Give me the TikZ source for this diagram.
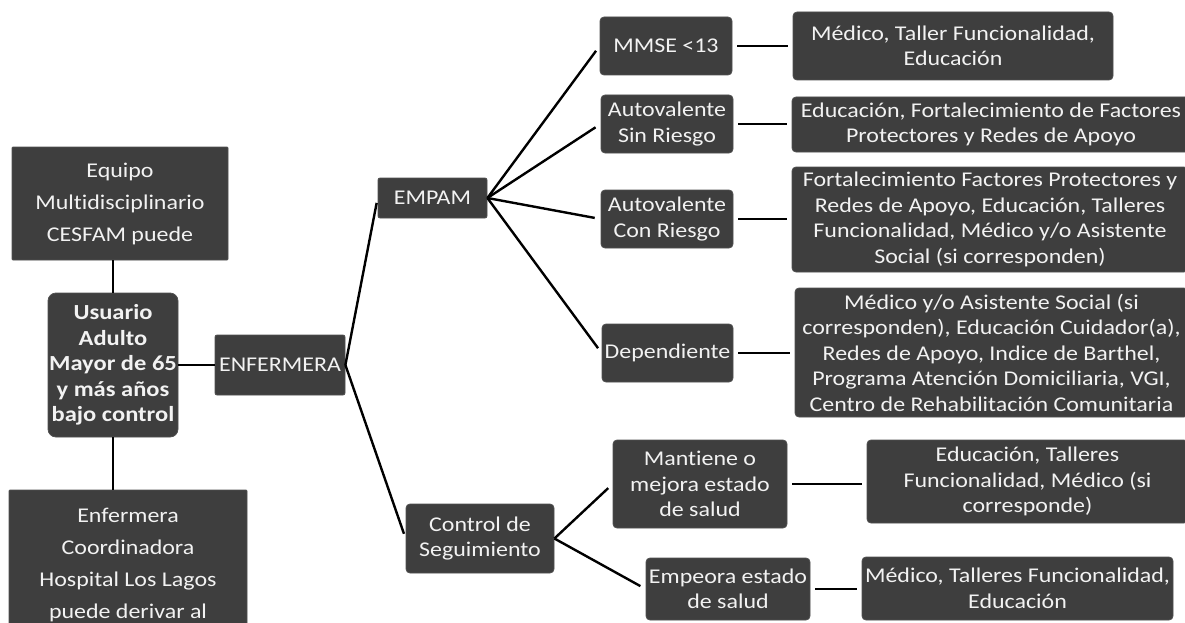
\documentclass[tikz,border=0pt]{standalone}
\usepackage{fontspec}
\setmainfont{Carlito}[FakeStretch=1.14, Ligatures={NoCommon}]
\begin{document}
\begin{tikzpicture}[x=1pt,y=-1pt,
  box/.style={draw=boxedge, line width=0.8pt, fill=boxfill, text=boxtext,
    align=center, inner sep=0pt, rounded corners=4pt,
    font=\fontsize{21}{25.5}\selectfont},
  tall/.style={font=\fontsize{21}{32}\selectfont, rounded corners=1pt},
  link/.style={line width=2.4pt, draw=black},
  gap/.style={shorten >=5pt, shorten <=5pt}]
\definecolor{boxfill}{RGB}{62,62,62}
\definecolor{boxedge}{RGB}{80,80,80}
\definecolor{boxtext}{RGB}{242,242,242}
\useasboundingbox (0,0) rectangle (1185,623);

% left column
\node[box, tall, minimum width=216pt, minimum height=113pt] (equipo) at (120,203.5)
  {Equipo\\Multidisciplinario\\CESFAM puede};
\node[box, rounded corners=8pt, minimum width=130pt, minimum height=144pt,
  font=\fontsize{21.5}{25.5}\selectfont\bfseries] (usuario) at (113,365)
  {Usuario\\Adulto\\Mayor de 65\\y más años\\bajo control};
\node[box, tall, minimum width=238pt, minimum height=150pt] (coord) at (128,565)
  {Enfermera\\Coordinadora\\Hospital Los Lagos\\puede derivar al};
\node[box, rounded corners=2pt, minimum width=130pt, minimum height=60pt] (enf) at (280,365) {ENFERMERA};

% second level
\node[box, rounded corners=2pt, minimum width=109pt, minimum height=40pt] (empam) at (432.5,198) {EMPAM};
\node[box, minimum width=148pt, minimum height=69pt] (control) at (480,538.5)
  {Control de\\Seguimiento};

% EMPAM outcomes
\node[box, minimum width=132pt, minimum height=58pt] (mmse) at (666,46) {MMSE <13};
\node[box, minimum width=132pt, minimum height=58pt] (sinr) at (667,124)
  {Autovalente\\Sin Riesgo};
\node[box, minimum width=132pt, minimum height=58pt] (conr) at (667,219)
  {Autovalente\\Con Riesgo};
\node[box, minimum width=131pt, minimum height=58pt] (dep) at (667.5,353) {Dependiente};

% follow-up outcomes
\node[box, minimum width=174pt, minimum height=88pt] (mant) at (700,484)
  {Mantiene o\\mejora estado\\de salud};
\node[box, minimum width=164pt, minimum height=62pt] (emp) at (728,589)
  {Empeora estado\\de salud};

% actions
\node[box, minimum width=320pt, minimum height=68pt] (r1) at (953,46)
  {Médico, Taller Funcionalidad,\\Educación};
\node[box, minimum width=398pt, minimum height=55pt] (r2) at (991,124.5)
  {Educación, Fortalecimiento de Factores\\Protectores y Redes de Apoyo};
\node[box, minimum width=396pt, minimum height=105pt] (r3) at (990,219.5)
  {Fortalecimiento Factores Protectores y\\Redes de Apoyo, Educación, Talleres\\Funcionalidad, Médico y/o Asistente\\Social (si corresponden)};
\node[box, minimum width=393pt, minimum height=129pt] (r4) at (991.5,352.5)
  {Médico y/o Asistente Social (si\\corresponden), Educación Cuidador(a),\\Redes de Apoyo, Indice de Barthel,\\Programa Atención Domiciliaria, VGI,\\Centro de Rehabilitación Comunitaria};
\node[box, minimum width=321pt, minimum height=83pt] (r5) at (1027.5,481.5)
  {Educación, Talleres\\Funcionalidad, Médico (si\\corresponde)};
\node[box, minimum width=311pt, minimum height=63pt] (r6) at (1017.5,588.5)
  {Médico, Talleres Funcionalidad,\\Educación};

% connectors
\draw[link] (usuario.north) -- (usuario.north |- equipo.south);
\draw[link] (usuario.south) -- (usuario.south |- coord.north);
\draw[link] (usuario.east) -- (enf.west);
\draw[link, shorten >=5pt] (enf.east) -- (empam.west);
\draw[link, shorten >=5pt] (enf.east) -- (control.west);
\foreach \t in {mmse,sinr,conr,dep}
  \draw[link, shorten >=6pt] (empam.east) -- (\t.west);
\draw[link, shorten >=6pt] (control.east) -- (mant.west);
\draw[link, shorten >=6pt] (control.east) -- (emp.west);
\draw[link, gap] (mmse.east) -- (mmse.east -| r1.west);
\draw[link, gap] (sinr.east) -- (sinr.east -| r2.west);
\draw[link, gap] (conr.east) -- (conr.east -| r3.west);
\draw[link, gap] (dep.east) -- (dep.east -| r4.west);
\draw[link, gap] (mant.east) -- (mant.east -| r5.west);
\draw[link, gap] (emp.east) -- (emp.east -| r6.west);
\end{tikzpicture}
\end{document}
